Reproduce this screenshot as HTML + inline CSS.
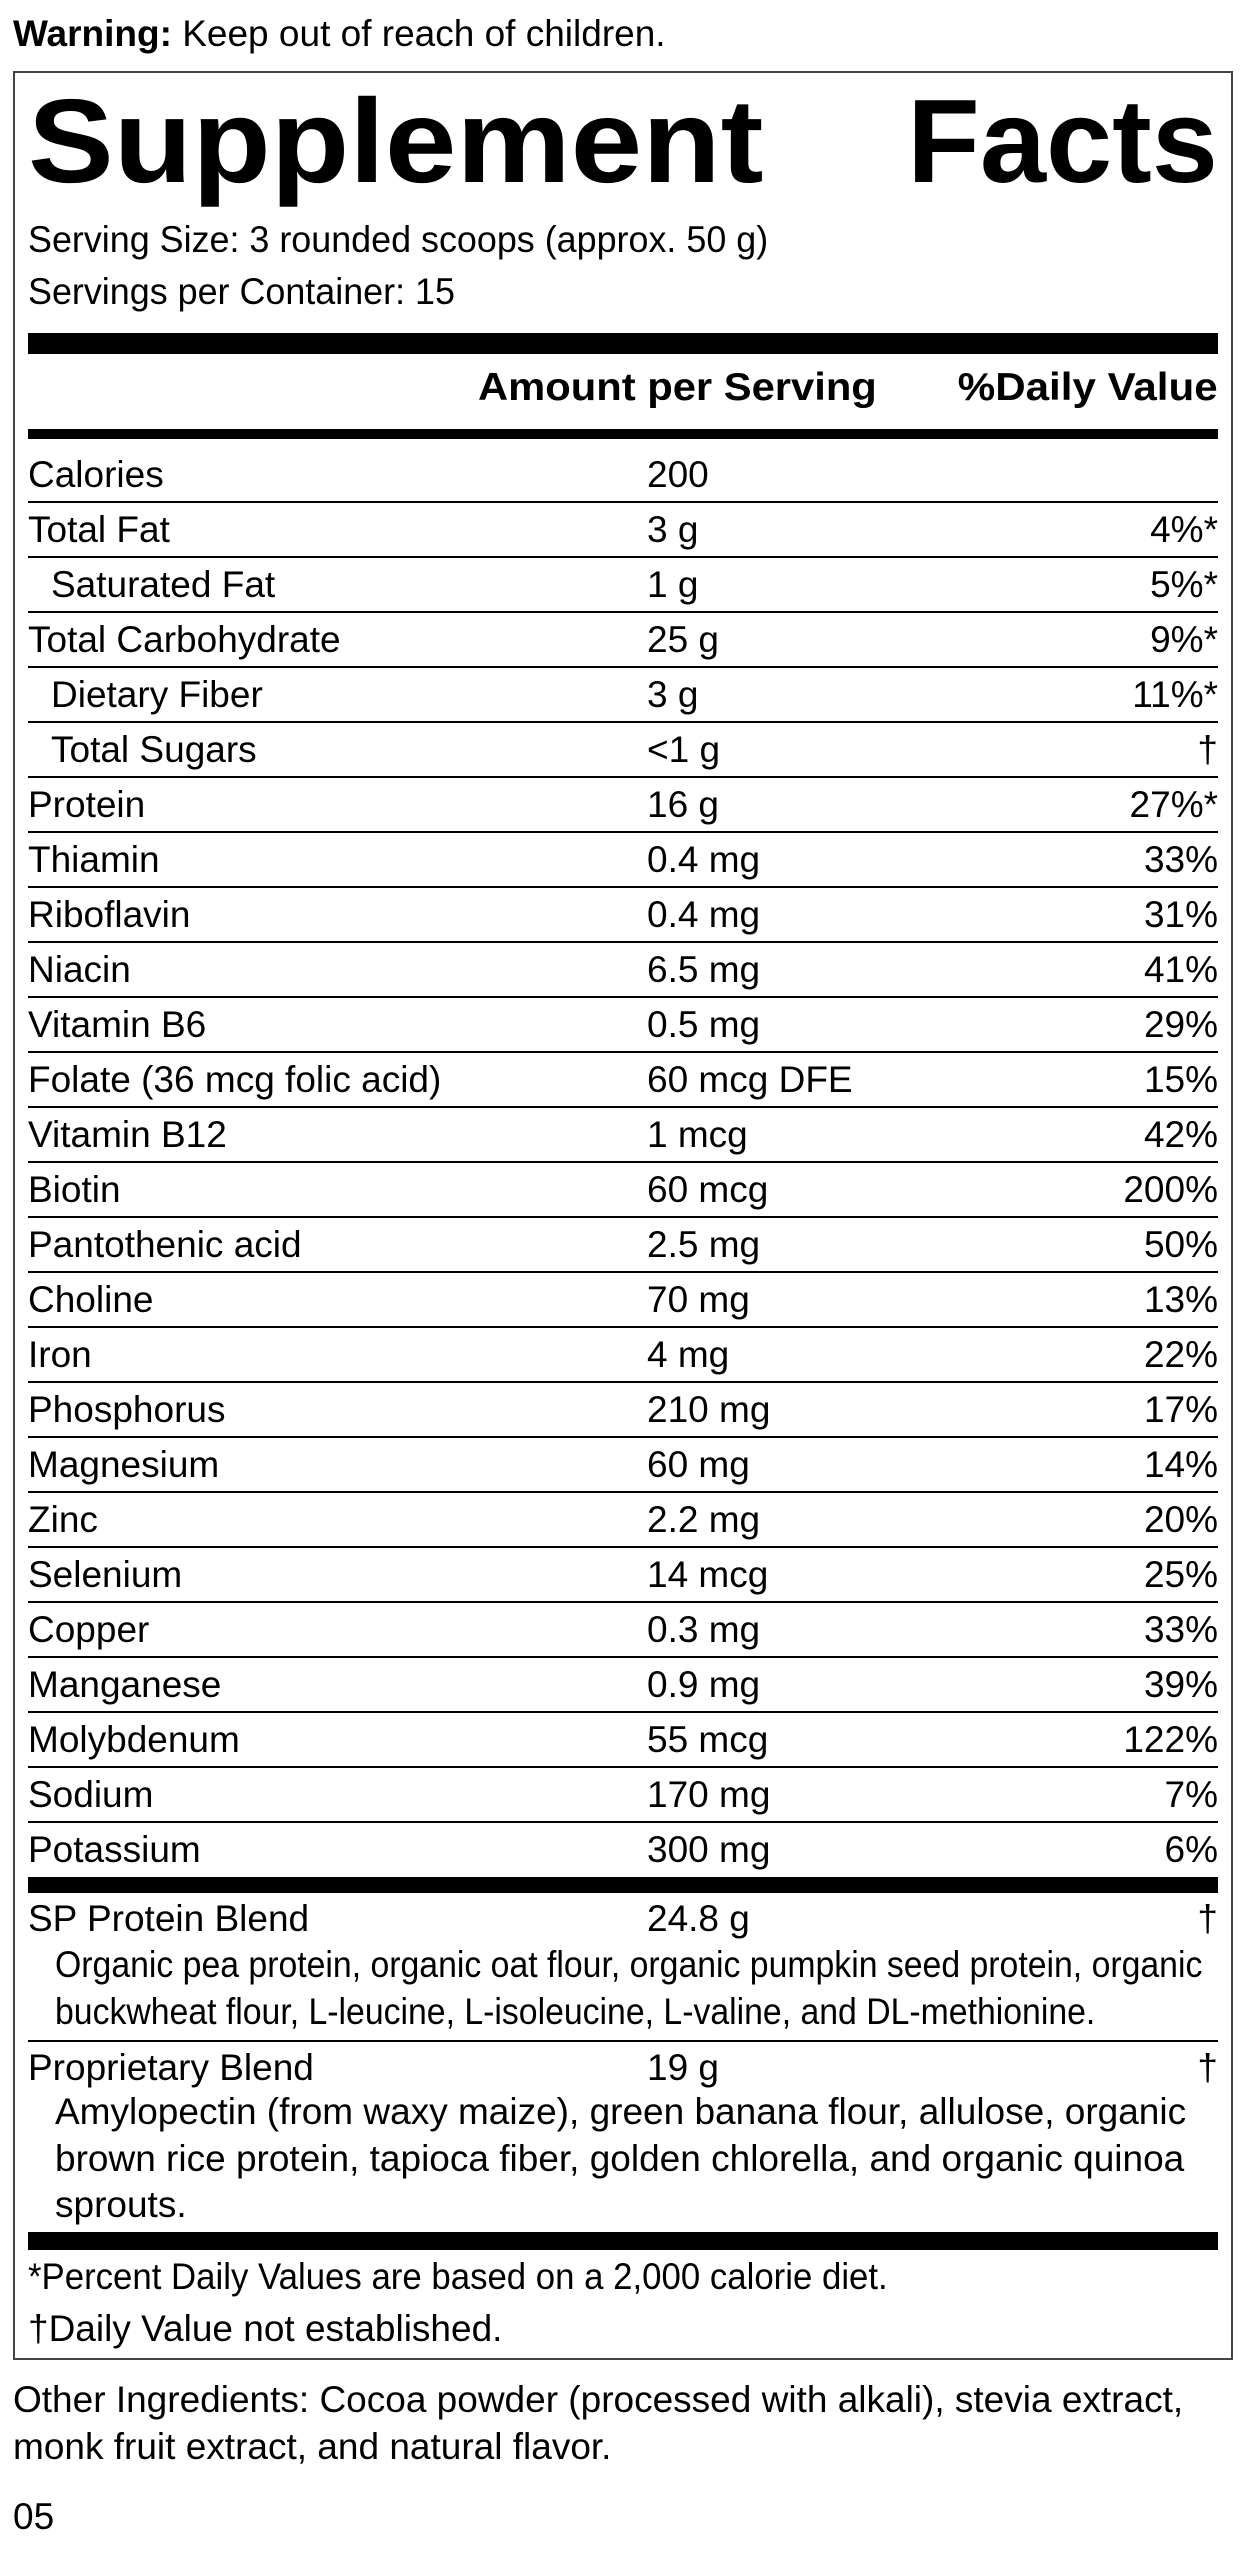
<!DOCTYPE html>
<html><head><meta charset="utf-8"><style>
*{margin:0;padding:0;box-sizing:border-box}
body{width:1244px;height:2560px;background:#fff;position:relative;overflow:hidden;color:#000;font-family:"Liberation Sans",sans-serif;font-size:37px}
.a{position:absolute;white-space:nowrap}
.box{position:absolute;left:13px;top:71px;width:1220px;height:2289px;border:2px solid #444}
.bar{position:absolute;left:28px;width:1190px;background:#000}
.ln{position:absolute;left:28px;width:1190px;height:2px;background:#000}
.row{position:absolute;left:28px;width:1190px;height:55px;line-height:55px}
.row span{position:absolute;top:0}
.n{left:0}.v{left:619px}.d{right:0}
.t{font-weight:bold;font-size:119px;line-height:136px;top:74px}
</style></head><body>
<div class="a" style="left:13px;top:12px;line-height:44px"><b>Warning:</b> Keep out of reach of children.</div>
<div class="box"></div>
<div class="a t" style="left:28px;transform:scaleX(1.08);transform-origin:left">Supplement</div>
<div class="a t" style="right:26px;transform:scaleX(1.0);transform-origin:right">Facts</div>
<div class="a" style="left:28px;top:214px;line-height:52px;transform:scaleX(0.97);transform-origin:left">Serving Size: 3 rounded scoops (approx. 50 g)<br>Servings per Container: 15</div>
<div class="bar" style="top:333px;height:21px"></div>
<div class="a" style="left:478px;top:362px;line-height:52px;font-weight:bold;font-size:39px;transform:scaleX(1.07);transform-origin:left">Amount per Serving</div>
<div class="a" style="right:26px;top:362px;line-height:52px;font-weight:bold;font-size:39px;transform:scaleX(1.08);transform-origin:right">%Daily Value</div>
<div class="bar" style="top:429px;height:10px"></div>
<div class="row" style="top:447px"><span class="n">Calories</span><span class="v">200</span></div>
<div class="ln" style="top:501px"></div>
<div class="row" style="top:502px"><span class="n">Total Fat</span><span class="v">3 g</span><span class="d">4%*</span></div>
<div class="ln" style="top:556px"></div>
<div class="row" style="top:557px"><span class="n" style="left:23px">Saturated Fat</span><span class="v">1 g</span><span class="d">5%*</span></div>
<div class="ln" style="top:611px"></div>
<div class="row" style="top:612px"><span class="n">Total Carbohydrate</span><span class="v">25 g</span><span class="d">9%*</span></div>
<div class="ln" style="top:666px"></div>
<div class="row" style="top:667px"><span class="n" style="left:23px">Dietary Fiber</span><span class="v">3 g</span><span class="d">11%*</span></div>
<div class="ln" style="top:721px"></div>
<div class="row" style="top:722px"><span class="n" style="left:23px">Total Sugars</span><span class="v">&lt;1 g</span><span class="d">†</span></div>
<div class="ln" style="top:776px"></div>
<div class="row" style="top:777px"><span class="n">Protein</span><span class="v">16 g</span><span class="d">27%*</span></div>
<div class="ln" style="top:831px"></div>
<div class="row" style="top:832px"><span class="n">Thiamin</span><span class="v">0.4 mg</span><span class="d">33%</span></div>
<div class="ln" style="top:886px"></div>
<div class="row" style="top:887px"><span class="n">Riboflavin</span><span class="v">0.4 mg</span><span class="d">31%</span></div>
<div class="ln" style="top:941px"></div>
<div class="row" style="top:942px"><span class="n">Niacin</span><span class="v">6.5 mg</span><span class="d">41%</span></div>
<div class="ln" style="top:996px"></div>
<div class="row" style="top:997px"><span class="n">Vitamin B6</span><span class="v">0.5 mg</span><span class="d">29%</span></div>
<div class="ln" style="top:1051px"></div>
<div class="row" style="top:1052px"><span class="n">Folate (36 mcg folic acid)</span><span class="v">60 mcg DFE</span><span class="d">15%</span></div>
<div class="ln" style="top:1106px"></div>
<div class="row" style="top:1107px"><span class="n">Vitamin B12</span><span class="v">1 mcg</span><span class="d">42%</span></div>
<div class="ln" style="top:1161px"></div>
<div class="row" style="top:1162px"><span class="n">Biotin</span><span class="v">60 mcg</span><span class="d">200%</span></div>
<div class="ln" style="top:1216px"></div>
<div class="row" style="top:1217px"><span class="n">Pantothenic acid</span><span class="v">2.5 mg</span><span class="d">50%</span></div>
<div class="ln" style="top:1271px"></div>
<div class="row" style="top:1272px"><span class="n">Choline</span><span class="v">70 mg</span><span class="d">13%</span></div>
<div class="ln" style="top:1326px"></div>
<div class="row" style="top:1327px"><span class="n">Iron</span><span class="v">4 mg</span><span class="d">22%</span></div>
<div class="ln" style="top:1381px"></div>
<div class="row" style="top:1382px"><span class="n">Phosphorus</span><span class="v">210 mg</span><span class="d">17%</span></div>
<div class="ln" style="top:1436px"></div>
<div class="row" style="top:1437px"><span class="n">Magnesium</span><span class="v">60 mg</span><span class="d">14%</span></div>
<div class="ln" style="top:1491px"></div>
<div class="row" style="top:1492px"><span class="n">Zinc</span><span class="v">2.2 mg</span><span class="d">20%</span></div>
<div class="ln" style="top:1546px"></div>
<div class="row" style="top:1547px"><span class="n">Selenium</span><span class="v">14 mcg</span><span class="d">25%</span></div>
<div class="ln" style="top:1601px"></div>
<div class="row" style="top:1602px"><span class="n">Copper</span><span class="v">0.3 mg</span><span class="d">33%</span></div>
<div class="ln" style="top:1656px"></div>
<div class="row" style="top:1657px"><span class="n">Manganese</span><span class="v">0.9 mg</span><span class="d">39%</span></div>
<div class="ln" style="top:1711px"></div>
<div class="row" style="top:1712px"><span class="n">Molybdenum</span><span class="v">55 mcg</span><span class="d">122%</span></div>
<div class="ln" style="top:1766px"></div>
<div class="row" style="top:1767px"><span class="n">Sodium</span><span class="v">170 mg</span><span class="d">7%</span></div>
<div class="ln" style="top:1821px"></div>
<div class="row" style="top:1822px"><span class="n">Potassium</span><span class="v">300 mg</span><span class="d">6%</span></div>
<div class="bar" style="top:1877px;height:16px"></div>
<div class="row" style="top:1893px;line-height:52px"><span class="n">SP Protein Blend</span><span class="v">24.8 g</span><span class="d">†</span></div>
<div class="a" style="left:55px;top:1941px;line-height:47px;transform:scaleX(0.913);transform-origin:left">Organic pea protein, organic oat flour, organic pumpkin seed protein, organic<br>buckwheat flour, L-leucine, L-isoleucine, L-valine, and DL-methionine.</div>
<div class="ln" style="top:2040px"></div>
<div class="row" style="top:2042px;line-height:52px"><span class="n">Proprietary Blend</span><span class="v">19 g</span><span class="d">†</span></div>
<div class="a" style="left:55px;top:2089px;line-height:46.5px">Amylopectin (from waxy maize), green banana flour, allulose, organic<br>brown rice protein, tapioca fiber, golden chlorella, and organic quinoa<br>sprouts.</div>
<div class="bar" style="top:2232px;height:18px"></div>
<div class="a" style="left:28px;top:2252px;line-height:50px;transform:scaleX(0.94);transform-origin:left">*Percent Daily Values are based on a 2,000 calorie diet.</div>
<div class="a" style="left:28px;top:2304px;line-height:50px">†Daily Value not established.</div>
<div class="a" style="left:13px;top:2376px;line-height:47px">Other Ingredients: Cocoa powder (processed with alkali), stevia extract,<br>monk fruit extract, and natural flavor.</div>
<div class="a" style="left:13px;top:2493px;line-height:48px">05</div>
</body></html>
